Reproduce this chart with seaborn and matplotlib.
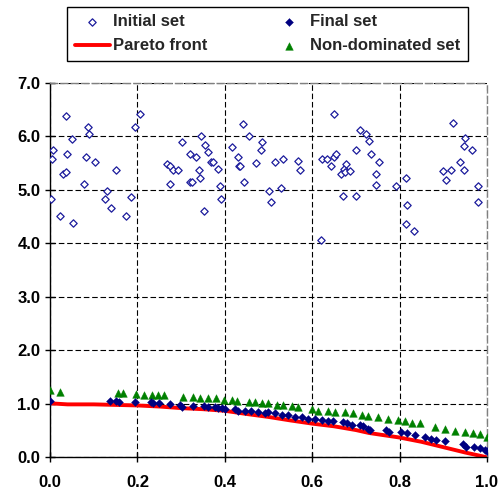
import numpy as np
import pandas as pd
import matplotlib
matplotlib.use("Agg")
import matplotlib.pyplot as plt
import seaborn as sns

# initial population (open diamonds)
initial_x = [0.002, 0.004, 0.006, 0.024, 0.029, 0.036, 0.036, 0.038, 0.050, 0.053,
             0.077, 0.082, 0.087, 0.089, 0.102, 0.127, 0.131, 0.139, 0.151, 0.174,
             0.186, 0.195, 0.206, 0.267, 0.275, 0.275, 0.282, 0.293, 0.301, 0.320,
             0.321, 0.325, 0.334, 0.342, 0.344, 0.346, 0.352, 0.354, 0.361, 0.368,
             0.374, 0.385, 0.389, 0.391, 0.416, 0.430, 0.432, 0.434, 0.441, 0.443,
             0.456, 0.472, 0.482, 0.484, 0.502, 0.505, 0.514, 0.529, 0.534, 0.567,
             0.571, 0.620, 0.622, 0.633, 0.643, 0.650, 0.651, 0.654, 0.667, 0.671,
             0.673, 0.675, 0.677, 0.687, 0.700, 0.700, 0.709, 0.724, 0.731, 0.735,
             0.746, 0.747, 0.754, 0.791, 0.815, 0.815, 0.818, 0.833, 0.899, 0.907,
             0.917, 0.922, 0.939, 0.947, 0.947, 0.950, 0.966, 0.979, 0.979]
initial_y = [4.83, 5.58, 5.74, 4.51, 5.29, 6.39, 5.34, 5.68, 5.96, 4.38,
             5.11, 5.62, 6.18, 6.04, 5.52, 4.83, 4.98, 4.67, 5.37, 4.51,
             4.87, 6.18, 6.42, 5.48, 5.44, 5.11, 5.37, 5.37, 5.90, 5.68,
             5.14, 5.14, 5.62, 5.37, 5.23, 6.00, 4.61, 5.84, 5.71, 5.53,
             5.53, 5.39, 5.07, 4.83, 5.80, 5.62, 5.44, 5.45, 6.23, 5.14,
             6.00, 5.50, 5.74, 5.90, 4.98, 4.77, 5.52, 5.04, 5.58, 5.55,
             5.37, 4.07, 5.58, 5.58, 5.44, 5.62, 6.42, 5.67, 5.29, 4.89,
             5.39, 5.34, 5.49, 5.35, 4.89, 5.74, 6.13, 6.04, 5.91, 5.68,
             5.29, 5.09, 5.52, 5.07, 5.22, 4.37, 4.71, 4.23, 5.35, 5.18,
             5.37, 6.26, 5.53, 5.82, 5.37, 5.98, 5.74, 5.07, 4.77]

# final population (filled diamonds)
final_x = [0.000, 0.137, 0.151, 0.158, 0.195, 0.231, 0.236, 0.250, 0.275, 0.297,
           0.303, 0.327, 0.352, 0.362, 0.378, 0.385, 0.393, 0.400, 0.423, 0.431,
           0.446, 0.461, 0.476, 0.492, 0.500, 0.515, 0.530, 0.545, 0.561, 0.576,
           0.591, 0.606, 0.622, 0.637, 0.648, 0.671, 0.679, 0.690, 0.709, 0.717,
           0.728, 0.732, 0.770, 0.776, 0.803, 0.816, 0.835, 0.858, 0.872, 0.883,
           0.904, 0.946, 0.951, 0.971, 0.984, 0.995, 0.999]
final_y = [1.05, 1.05, 1.05, 1.035, 1.03, 1.035, 1.02, 1.01, 1.00, 0.98,
           0.95, 0.96, 0.96, 0.935, 0.95, 0.92, 0.92, 0.91, 0.91, 0.87,
           0.87, 0.86, 0.85, 0.835, 0.85, 0.82, 0.80, 0.79, 0.76, 0.75,
           0.72, 0.71, 0.70, 0.685, 0.67, 0.66, 0.64, 0.61, 0.61, 0.585,
           0.535, 0.51, 0.51, 0.48, 0.475, 0.46, 0.42, 0.385, 0.35, 0.325,
           0.31, 0.25, 0.20, 0.20, 0.175, 0.14, 0.11]

# non-dominated set (triangles)
nondom_x = [0.000, 0.023, 0.156, 0.168, 0.196, 0.216, 0.233, 0.248, 0.262, 0.305,
            0.328, 0.343, 0.361, 0.379, 0.399, 0.416, 0.429, 0.455, 0.469, 0.484,
            0.500, 0.519, 0.534, 0.553, 0.568, 0.599, 0.614, 0.637, 0.652, 0.675,
            0.694, 0.713, 0.728, 0.751, 0.774, 0.797, 0.812, 0.828, 0.847, 0.881,
            0.904, 0.927, 0.950, 0.969, 0.984, 0.999]
nondom_y = [1.26, 1.22, 1.20, 1.21, 1.18, 1.16, 1.16, 1.16, 1.16, 1.13,
            1.12, 1.11, 1.11, 1.10, 1.07, 1.07, 1.06, 1.035, 1.035, 1.02,
            1.01, 0.985, 0.97, 0.96, 0.95, 0.91, 0.87, 0.87, 0.85, 0.85,
            0.82, 0.79, 0.77, 0.76, 0.71, 0.70, 0.67, 0.65, 0.64, 0.56,
            0.535, 0.50, 0.47, 0.45, 0.435, 0.385]

# pareto front (red line)
front_x = [0.0, 0.04, 0.1, 0.15, 0.2, 0.25, 0.3, 0.35, 0.4, 0.45, 0.5,
           0.55, 0.6, 0.65, 0.7, 0.73, 0.8, 0.85, 0.9, 0.95, 1.0]
front_y = [1.01, 0.99, 0.99, 0.98, 0.97, 0.95, 0.92, 0.90, 0.87, 0.81, 0.755,
           0.69, 0.63, 0.58, 0.51, 0.455, 0.37, 0.29, 0.19, 0.09, 0.0]

sns.set_theme(style="white")
plt.rcParams['font.family'] = ['Liberation Sans', 'DejaVu Sans']

fig = plt.figure(figsize=(4.98, 4.93), dpi=100)
ax = fig.add_axes([0.1004, 0.0724, 0.8775, 0.7592])

front = pd.DataFrame({'x': front_x, 'y': front_y})
sns.lineplot(data=front, x='x', y='y', ax=ax, color='#ff0000', linewidth=2.8,
             label='Pareto front', zorder=2, sort=False)
sns.scatterplot(x=initial_x, y=initial_y, ax=ax, marker='D', s=14,
                facecolor='white', edgecolor='#1c1c9c', linewidth=0.9,
                label='Initial set', zorder=3)
sns.scatterplot(x=nondom_x, y=nondom_y, ax=ax, marker='^', s=30,
                color='#008000', edgecolor='#008000', linewidth=0.3,
                label='Non-dominated set', zorder=3)
sns.scatterplot(x=final_x, y=final_y, ax=ax, marker='D', s=16,
                color='#000080', edgecolor='#000080', linewidth=0.3,
                label='Final set', zorder=4)

ax.set_xlim(0, 1.0)
ax.set_ylim(0, 7.0)
ax.set_xticks(np.arange(0, 1.01, 0.2))
ax.set_yticks(np.arange(0, 7.01, 1.0))
ax.set_xticklabels([f"{v:.1f}" for v in np.arange(0, 1.01, 0.2)])
ax.set_yticklabels([f"{v:.1f}" for v in np.arange(0, 7.01, 1.0)])
ax.set_xlabel('')
ax.set_ylabel('')
ax.grid(True, color='black', linestyle=(0, (5, 2.5)), linewidth=0.8)
ax.set_axisbelow(True)
ax.tick_params(direction='inout', length=7, width=1, color='black',
               labelsize=12, labelcolor='black', bottom=True, left=True)
ax.tick_params(axis='x', pad=9)
for lab in ax.get_xticklabels() + ax.get_yticklabels():
    lab.set_fontweight('bold')
for side in ['left', 'bottom']:
    ax.spines[side].set_color('black')
    ax.spines[side].set_linewidth(1.0)
for side in ['top', 'right']:
    ax.spines[side].set_color('#808080')
    ax.spines[side].set_linestyle((0, (5, 2.5)))
    ax.spines[side].set_linewidth(1.0)

handles, labels = ax.get_legend_handles_labels()
order = ['Initial set', 'Pareto front', 'Final set', 'Non-dominated set']
hmap = dict(zip(labels, handles))
ax.get_legend().remove()
leg = fig.legend([hmap[k] for k in order], order, ncol=2, mode='expand',
                 loc='lower left',
                 bbox_to_anchor=(67 / 498, 1 - 61 / 493, 401 / 498, 54 / 493),
                 frameon=True, fancybox=False, framealpha=1,
                 edgecolor='black', borderaxespad=0, handlelength=2.1,
                 handletextpad=0.2, borderpad=0.45, labelspacing=0.55,
                 prop={'weight': 'bold', 'size': 12})
leg.get_frame().set_linewidth(1.0)

fig.savefig('out.png', dpi=100)
